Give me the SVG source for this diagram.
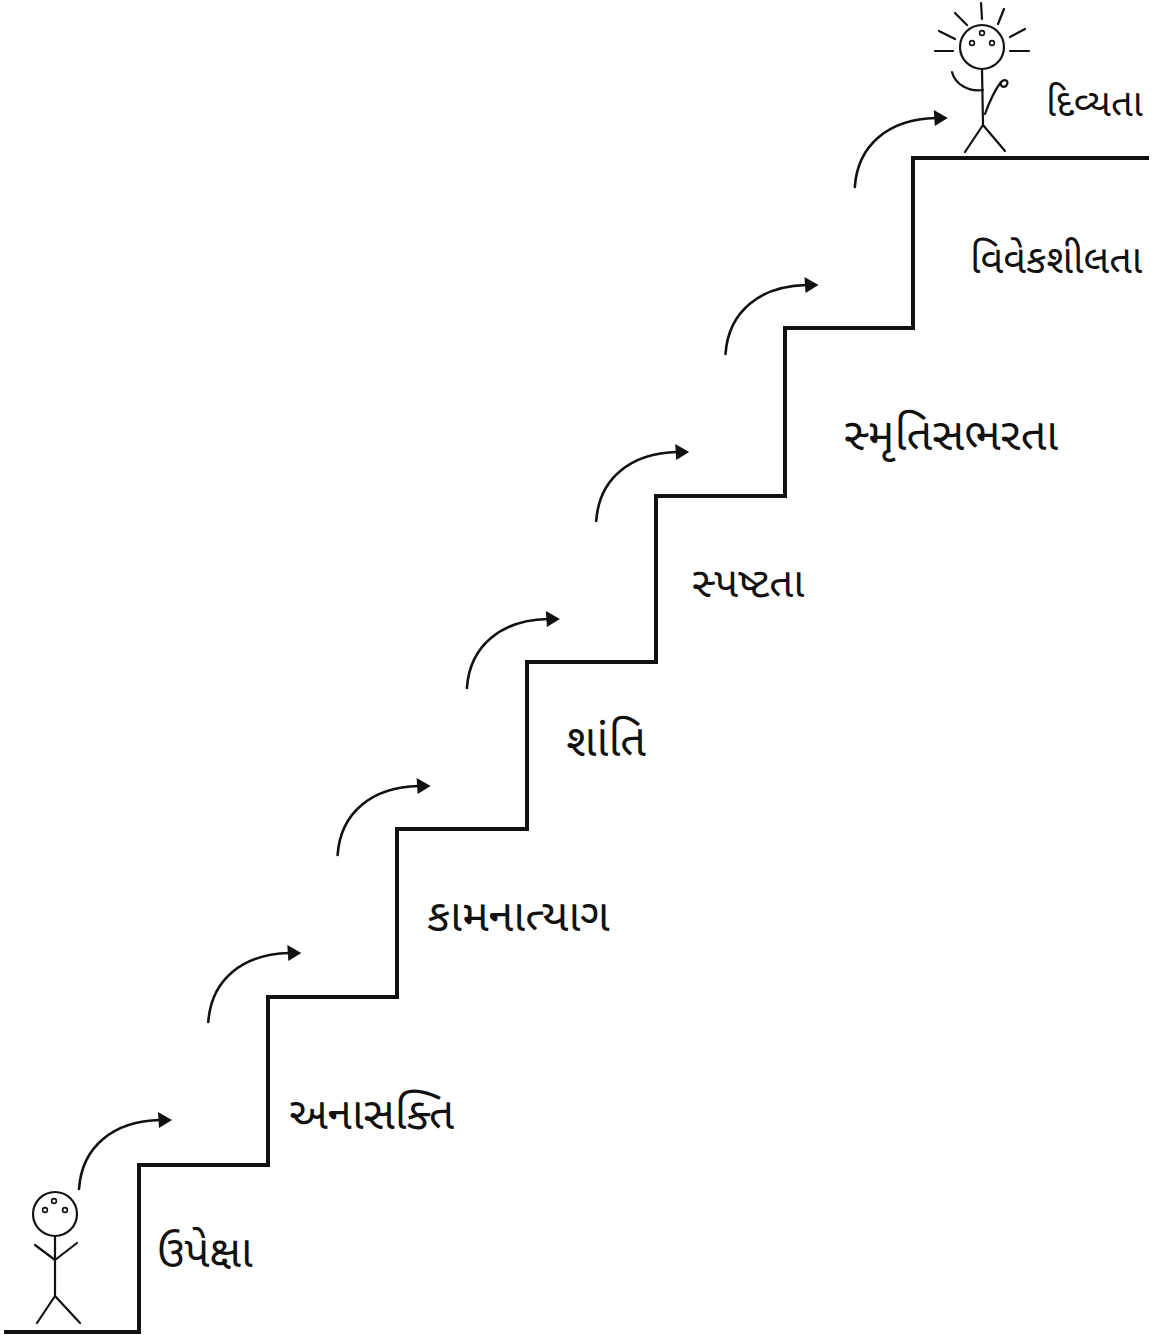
<svg xmlns="http://www.w3.org/2000/svg" width="1162" height="1340" viewBox="0 0 1162 1340">
  <style>
    .stair { fill: none; stroke: #111; stroke-width: 4; stroke-linejoin: miter; stroke-linecap: square; }
    .arc { fill: none; stroke: #111; stroke-width: 2.6; stroke-linecap: round; }
    .fig { fill: none; stroke: #111; stroke-width: 2.2; stroke-linecap: round; stroke-linejoin: round; }
    .eye { fill: none; stroke: #111; stroke-width: 1.6; }
    .lbl { font-family: "Noto Sans Gujarati", "Lohit Gujarati", "Noto Sans", "DejaVu Sans", sans-serif; font-size: 42px; fill: #111; }
  </style>
  <defs>
    <g id="step-arrow">
      <path class="arc" d="M79,1189 C82,1146 114,1121 160,1120"/>
      <polygon points="172,1120 158,1112 159,1128" fill="#111"/>
    </g>
  </defs>
  <rect width="1162" height="1340" fill="#fff"/>

  <!-- staircase outline -->
  <g id="staircase">
    <path class="stair" d="M6,1332 H139 V1165 H268 V997 H397 V829 H527 V662 H656 V496 H785 V328 H913 V158 H1147"/>
  </g>

  <!-- curved arrows climbing each step -->
  <g id="connectors">
    <use href="#step-arrow"/>
    <use href="#step-arrow" transform="translate(129.3,-167)"/>
    <use href="#step-arrow" transform="translate(258.6,-334)"/>
    <use href="#step-arrow" transform="translate(387.9,-501)"/>
    <use href="#step-arrow" transform="translate(517.2,-668)"/>
    <use href="#step-arrow" transform="translate(646.5,-835)"/>
    <use href="#step-arrow" transform="translate(775.8,-1002)"/>
  </g>

  <!-- figure at the foot of the stairs -->
  <g id="figure-start" class="fig">
    <circle cx="55" cy="1214" r="22"/>
    <circle class="eye" cx="45" cy="1210" r="2.4"/>
    <circle class="eye" cx="65" cy="1210" r="2.4"/>
    <circle class="eye" cx="54" cy="1201" r="2.4"/>
    <path d="M55,1236 V1296"/>
    <path d="M35,1245 L55,1260 L77,1243"/>
    <path d="M37,1323 L55,1296 L80,1323"/>
  </g>

  <!-- radiant figure at the top -->
  <g id="figure-top" class="fig">
    <circle cx="982" cy="47" r="22"/>
    <circle class="eye" cx="972" cy="43" r="2.4"/>
    <circle class="eye" cx="992" cy="43" r="2.4"/>
    <circle class="eye" cx="982" cy="33" r="2.4"/>
    <path d="M981,3 L982,19 M955,13 L967,25 M1004,9 L998,24 M939,31 L955,39 M1025,29 L1010,37 M935,51 L953,51 M1010,51 L1029,51"/>
    <path d="M982,69 L983,125"/>
    <path d="M952,72 C955,84 968,92 983,90"/>
    <path d="M985,114 C990,100 995,90 1001,82 C1005,78 1010,81 1006,86 C1003,88 1000,86 1001,82"/>
    <path d="M965,152 L983,125 L1005,151"/>
  </g>

  <!-- stage labels -->
  <g id="label-1"><text class="lbl" x="157" y="1267" style="font-size:44px">ઉપેક્ષા</text></g>
  <g id="label-2"><text class="lbl" x="289" y="1129" style="font-size:44px">અનાસક્તિ</text></g>
  <g id="label-3"><text class="lbl" x="427" y="931" style="font-size:45px">કામનાત્યાગ</text></g>
  <g id="label-4"><text class="lbl" x="566" y="756" style="font-size:45px">શાંતિ</text></g>
  <g id="label-5"><text class="lbl" x="692" y="597">સ્પષ્ટતા</text></g>
  <g id="label-6"><text class="lbl" x="844" y="450" style="font-size:45px">સ્મૃતિસભરતા</text></g>
  <g id="label-7"><text class="lbl" x="970" y="273" style="font-size:39.5px">વિવેકશીલતા</text></g>
  <g id="label-8"><text class="lbl" x="1046" y="116" style="font-size:38px">દિવ્યતા</text></g>
</svg>
